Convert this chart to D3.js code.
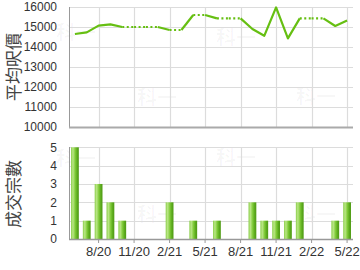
<!DOCTYPE html>
<html><head><meta charset="utf-8">
<script src="https://cdn.jsdelivr.net/npm/d3@7"></script>
<style>html,body{margin:0;padding:0;background:#fff;}svg{display:block;font-family:"Liberation Sans",Arial,sans-serif;}</style>
</head><body><svg id="c" width="360" height="270"></svg>
<script>
const months = ["6/20","7/20","8/20","9/20","10/20","11/20","12/20","1/21","2/21","3/21","4/21","5/21","6/21","7/21","8/21","9/21","10/21","11/21","12/21","1/22","2/22","3/22","4/22","5/22"];
const counts = [5,1,3,2,1,0,0,0,2,0,1,0,1,0,0,2,1,1,1,2,0,0,1,2];
const prices = [14650,14730,15070,15130,15000,null,null,null,14850,null,15600,null,15430,null,null,14900,14560,15980,14430,15430,null,null,15050,15320];
const tickMonths = ["8/20","11/20","2/21","5/21","8/21","11/21","2/22","5/22"];
const priceTicks = [10000,11000,12000,13000,14000,15000,16000];
const countTicks = [0,1,2,3,4,5];

const svg = d3.select("#c");
const L = 69, R = 353;
const x = d3.scaleBand().domain(months).range([L, R]).paddingInner(0.34).paddingOuter(0.17);
const cx = m => x(m) + x.bandwidth()/2;
const yT = d3.scaleLinear().domain([10000,16000]).range([127,7]);
const yB = d3.scaleLinear().domain([0,5]).range([239,147.3]);

const defs = svg.append("defs");
const g = defs.append("linearGradient").attr("id","bar").attr("x1","0").attr("x2","1").attr("y1","0").attr("y2","0");
[["0%","#8ccf4c"],["25%","#b9e684"],["55%","#7dc936"],["80%","#5aa91c"],["100%","#4f9a14"]].forEach(s=>g.append("stop").attr("offset",s[0]).attr("stop-color",s[1]));

// watermarks
const wm = [[76,40],[157,105],[236,45],[316,104],[76,166],[157,222],[236,165],[316,222]];
svg.append("g").selectAll("text").data(wm).join("text")
  .attr("x",d=>d[0]).attr("y",d=>d[1]).attr("text-anchor","middle")
  .attr("font-size",20).attr("font-weight","bold").attr("fill","#000").attr("fill-opacity",0.03)
  .attr("font-family","'Noto Sans CJK TC',sans-serif").text("科一");

function panel(y, ticks, top, bottom, fmt){
  const gp = svg.append("g");
  gp.selectAll(".hg").data(ticks).join("line")
    .attr("x1",L).attr("x2",R).attr("y1",d=>Math.round(y(d))+0.5).attr("y2",d=>Math.round(y(d))+0.5)
    .attr("stroke","#dcdcdc").attr("stroke-width",1.2);
  gp.selectAll(".vg").data(tickMonths).join("line")
    .attr("x1",d=>Math.round(cx(d))+0.5).attr("x2",d=>Math.round(cx(d))+0.5)
    .attr("y1",top).attr("y2",bottom).attr("stroke","#dcdcdc").attr("stroke-width",1.2);
  const ax = d3.axisLeft(y).tickValues(ticks).tickSize(0).tickPadding(12).tickFormat(fmt);
  const a = gp.append("g").attr("transform",`translate(${L},0)`).call(ax);
  a.select(".domain").remove();
  a.selectAll("text").attr("font-size",12).attr("fill","#333").attr("font-family","'Liberation Sans',Arial,sans-serif");
  gp.append("line").attr("x1",L+0.5).attr("x2",L+0.5).attr("y1",top).attr("y2",bottom).attr("stroke","#999").attr("stroke-width",1);
  return gp;
}
panel(yT, priceTicks, 7, 127, d3.format("d"));
panel(yB, countTicks, 147, 239, d3.format("d"));

// top bottom line
svg.append("line").attr("x1",L).attr("x2",R).attr("y1",127.5).attr("y2",127.5).attr("stroke","#aaa").attr("stroke-width",2);

// bars
svg.append("g").selectAll("rect").data(months.map((m,i)=>({m,v:counts[i]})).filter(d=>d.v>0)).join("rect")
  .attr("x",d=>x(d.m)).attr("width",x.bandwidth())
  .attr("y",d=>yB(d.v)).attr("height",d=>yB(0)-yB(d.v))
  .attr("fill","url(#bar)");

// bottom axis
const bx = d3.axisBottom(x).tickValues(tickMonths).tickSize(4).tickPadding(4);
const ba = svg.append("g").attr("transform","translate(0,239)").call(bx);
ba.select(".domain").remove();
ba.selectAll("line").attr("stroke","#999");
ba.selectAll("text").attr("font-size",13).attr("fill","#333").attr("font-family","'Liberation Sans',Arial,sans-serif");
svg.append("line").attr("x1",L).attr("x2",R).attr("y1",239.5).attr("y2",239.5).attr("stroke","#999").attr("stroke-width",1.5);

// price line: solid into months with data, dotted (carried level) into months without
const segs = [];
let last = prices[0];
for(let i=0;i<months.length-1;i++){
  const nxt = prices[i+1];
  if(nxt!=null){ segs.push({a:[cx(months[i]),yT(last)], b:[cx(months[i+1]),yT(nxt)], dot:false}); last = nxt; }
  else segs.push({a:[cx(months[i]),yT(last)], b:[cx(months[i+1]),yT(last)], dot:true});
}
const lg = svg.append("g");
const solidPts = [];
let run = null;
segs.forEach(s=>{
  if(!s.dot){ if(!run){run=[s.a]; solidPts.push(run);} run.push(s.b); }
  else run=null;
});
lg.selectAll(".s").data(solidPts).join("path")
  .attr("d",d3.line()).attr("fill","none").attr("stroke","#66bf12").attr("stroke-width",2.2).attr("stroke-linejoin","round");
lg.selectAll(".d").data(segs.filter(s=>s.dot)).join("path")
  .attr("d",s=>d3.line()([s.a,s.b])).attr("fill","none").attr("stroke","#66bf12").attr("stroke-width",2.2).attr("stroke-dasharray","2,2.5");

// y titles
svg.append("text").attr("transform","translate(20,67) rotate(-90)").attr("text-anchor","middle")
  .attr("font-size",17).attr("fill","#444").attr("font-family","'Noto Sans CJK TC',sans-serif").text("平均呎價");
svg.append("text").attr("transform","translate(20,194) rotate(-90)").attr("text-anchor","middle")
  .attr("font-size",17).attr("fill","#444").attr("font-family","'Noto Sans CJK TC',sans-serif").text("成交宗數");
</script></body></html>
